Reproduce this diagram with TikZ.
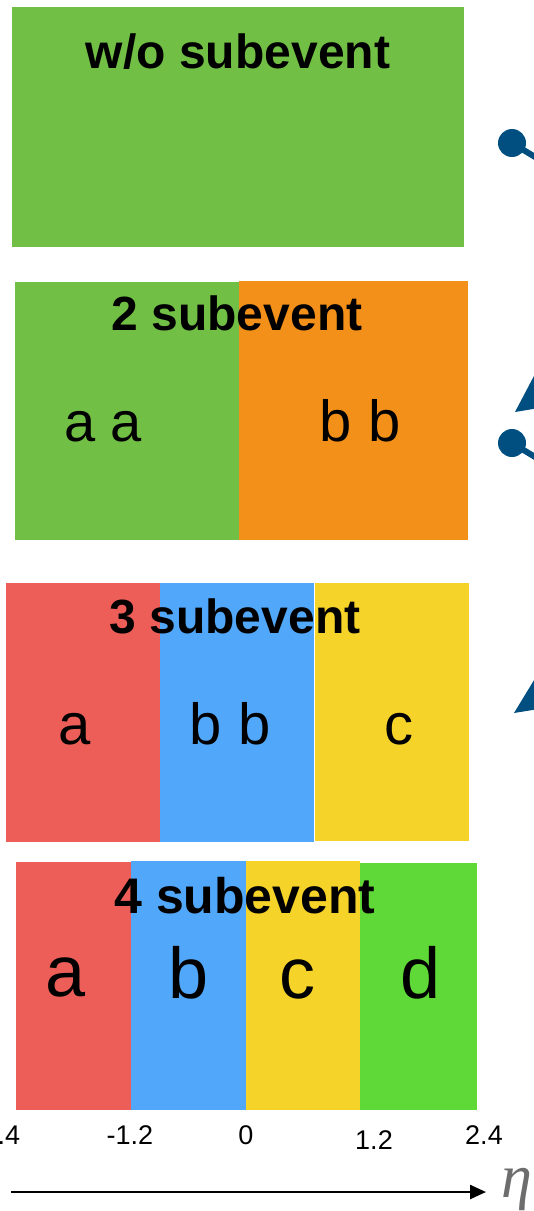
\documentclass[tikz,border=0pt]{standalone}
\usepackage{fontspec}
\setmainfont{Liberation Sans}
\newfontfamily\etafont{Liberation Serif}
\usetikzlibrary{arrows.meta}
\definecolor{grass}{HTML}{71BF44}
\definecolor{tangerine}{HTML}{F39019}
\definecolor{coral}{HTML}{ED5E59}
\definecolor{sky}{HTML}{51A7F9}
\definecolor{sun}{HTML}{F5D329}
\definecolor{lime}{HTML}{5FD937}
\definecolor{marker}{HTML}{004F80}
\definecolor{etagray}{HTML}{6D6D6D}
\begin{document}
\begin{tikzpicture}[x=1pt, y=-1pt,
  band/.style={rectangle, inner sep=0pt, outer sep=0pt, anchor=north west},
  title/.style={anchor=base, inner sep=0pt, font=\fontsize{#1}{#1}\selectfont\bfseries},
  title/.default=48,
  sub/.style={anchor=base, inner sep=0pt, font=\fontsize{#1}{#1}\selectfont},
  sub/.default=58,
  tick/.style={anchor=base, inner sep=0pt, font=\fontsize{27}{27}\selectfont}]
\useasboundingbox (0,0) rectangle (534,1211);
% w/o subevent
\node[band, fill=grass, minimum width=452pt, minimum height=240pt] (full) at (12,7) {};
\node[title] (tfull) at (238,68) {w/o subevent};
% 2 subevent
\node[band, fill=grass, minimum width=224pt, minimum height=258pt] (twoa) at (15,282) {};
\node[band, fill=tangerine, minimum width=229pt, minimum height=259pt] (twob) at (239,281) {};
\node[title] (ttwo) at (237,330) {2 subevent};
\node[sub=56] (la2) at (103,441) {a a};
\node[sub] (lb2) at (360,441) {b b};
% 3 subevent
\node[band, fill=coral, minimum width=154pt, minimum height=259pt] (threea) at (6,583) {};
\node[band, fill=sky, minimum width=154pt, minimum height=259pt] (threeb) at (160,583) {};
\node[band, fill=sun, minimum width=154pt, minimum height=258pt] (threec) at (315,583) {};
\node[title] (tthree) at (235,633) {3 subevent};
\node[sub] (la3) at (75,744) {a};
\node[sub] (lb3) at (230,744) {b b};
\node[sub] (lc3) at (399,744) {c};
% 4 subevent
\node[band, fill=coral, minimum width=115pt, minimum height=248pt] (foura) at (16,862) {};
\node[band, fill=sky, minimum width=115pt, minimum height=249.5pt] (fourb) at (131,860.5) {};
\node[band, fill=sun, minimum width=114pt, minimum height=249.5pt] (fourc) at (246,860.5) {};
\node[band, fill=lime, minimum width=117pt, minimum height=247.5pt] (fourd) at (360,862.5) {};
\node[title=50] (tfour) at (245,913) {4 subevent};
\node[sub=72] (la4) at (66,996) {a};
\node[sub=72] (lb4) at (189,998) {b};
\node[sub=72] (lc4) at (297,998) {c};
\node[sub=72] (ld4) at (421,998) {d};
% eta axis
\node[tick] (m24) at (-3,1144) {-2.4};
\node[tick] (m12) at (130,1144) {-1.2};
\node[tick] (z0) at (246,1144) {0};
\node[tick] (p12) at (374,1149) {1.2};
\node[tick] (p24) at (484,1144) {2.4};
\coordinate (axl) at (11,1192);
\coordinate (axr) at (486,1192);
\draw[-{Triangle[length=16pt,width=14pt]}, line width=2.5pt] (axl) -- (axr);
\node[anchor=base west, inner sep=0pt, text=etagray, font=\fontsize{62}{62}\selectfont\etafont\itshape] (eta) at (501,1197) {η};
% markers cut at the right edge
\fill[marker] (512,143) circle[radius=14];
\draw[marker, line width=6pt] (512,143) -- (545,163);
\fill[marker] (515,412) -- (545,355) -- (545,407) -- cycle;
\fill[marker] (512,443) circle[radius=14];
\draw[marker, line width=6pt] (512,443) -- (545,463);
\fill[marker] (514,713) -- (545,662) -- (545,708) -- cycle;
\end{tikzpicture}
\end{document}
